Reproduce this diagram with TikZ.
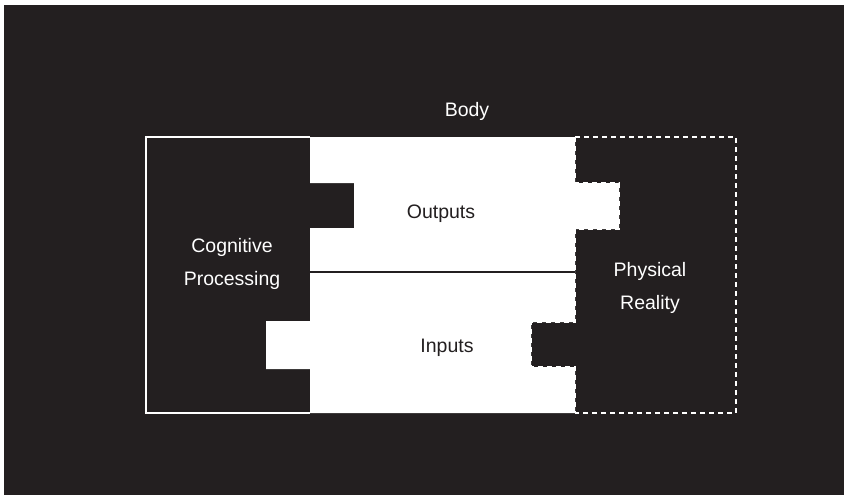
\documentclass[tikz,border=0pt]{standalone}
\usepackage{fontspec}
\setmainfont{Liberation Sans}
\definecolor{bgdark}{HTML}{231F20}
\begin{document}
\begin{tikzpicture}[x=1pt,y=-1pt,
  lbl/.style={font=\fontsize{19.5}{33}\selectfont, inner sep=0pt, align=center},
  whitelbl/.style={lbl, text=white},
  darklbl/.style={lbl, text=bgdark},
  outline/.style={draw=white, line width=1.3pt},
  dashline/.style={draw=white, line width=1.3pt, dash pattern=on 5pt off 4pt},
  divider/.style={draw=bgdark, line width=2.8pt}]
\useasboundingbox (0,0) rectangle (844,495);
\fill[bgdark] (0,0) rectangle (844,495);
\fill[white] (0,0) rectangle (844,5.5);
\fill[white] (0,0) rectangle (3.5,495);
% body (white region)
\fill[white] (310,137) -- (575,137) -- (575,183) -- (619,183) -- (619,229) -- (575,229)
  -- (575,322) -- (531,322) -- (531,367) -- (575,367) -- (575,413) -- (310,413)
  -- (310,369) -- (266,369) -- (266,321) -- (310,321) -- (310,228) -- (354,228)
  -- (354,183) -- (310,183) -- cycle;
% cognitive processing outline
\draw[outline] (310,137) -- (146,137) -- (146,413) -- (310,413);
% physical reality dashed outline
\draw[dashline] (575,137) -- (736,137) -- (736,413) -- (575,413);
\draw[dashline] (575,137) -- (575,183) -- (619,183) -- (619,229) -- (575,229)
  -- (575,322) -- (531,322) -- (531,367) -- (575,367) -- (575,413);
% divider
\coordinate (dl) at (310,272);
\coordinate (dr) at (575,272);
\draw[divider] (dl) -- (dr);
% labels
\node[whitelbl] (body) at (467,111) {Body};
\node[darklbl] (outputs) at (441,214) {Outputs};
\node[darklbl] (inputs) at (447,348) {Inputs};
\node[whitelbl] (cog) at (232,264) {Cognitive\\Processing};
\node[whitelbl] (phys) at (650,288) {Physical\\Reality};
\end{tikzpicture}
\end{document}
